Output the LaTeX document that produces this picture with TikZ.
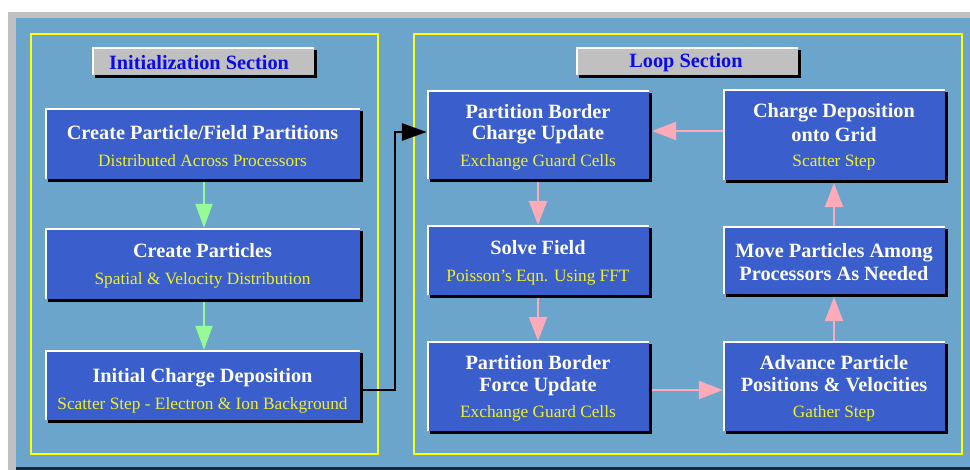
\documentclass[tikz,border=0pt]{standalone}
\usepackage{fontspec}
\setmainfont{Liberation Serif}
\usetikzlibrary{arrows.meta,calc}
\definecolor{bgblue}{RGB}{108,165,204}
\definecolor{boxblue}{RGB}{58,94,204}
\definecolor{framegray}{RGB}{192,192,192}
\definecolor{darkline}{RGB}{25,40,60}
\definecolor{subyel}{RGB}{240,240,40}
\definecolor{secblue}{RGB}{10,10,235}
\definecolor{pinkc}{RGB}{255,170,185}
\definecolor{greenc}{RGB}{150,250,150}
\definecolor{frameyel}{RGB}{255,255,0}
\newcommand\titlef{\bfseries\fontsize{20.3}{21.5}\selectfont}
\newcommand\subf{\mdseries\fontsize{17.3}{18}\selectfont}
\newcommand\subline[1]{{\subf\color{subyel}#1}}
\newcommand\boxtext[3]{\node[txt] (#1t) at ($(#1.center)+(0,#2)$) {#3};}
\tikzset{
  panel/.style={draw=frameyel, line width=1.5pt},
  bx/.style={fill=boxblue, inner sep=0pt},
  lbox/.style={bx, minimum width=315pt},
  rbox/.style={bx, minimum width=222pt},
  txt/.style={inner sep=0pt, align=center, text=white, font=\titlef},
  tbar/.style={fill=framegray, inner sep=0pt, minimum width=222pt, minimum height=28pt},
  sectxt/.style={inner sep=0pt, text=secblue, font=\bfseries\fontsize{20.3}{21}\selectfont},
  garrow/.style={draw=greenc, line width=2.2pt, -{Triangle[width=17pt,length=24pt]}},
  parrow/.style={draw=pinkc, line width=2.5pt, -{Triangle[width=18pt,length=24pt]}},
  karrow/.style={draw=black, line width=2.8pt, line join=miter, -{Triangle[width=17pt,length=25pt]}},
}
\begin{document}
\begin{tikzpicture}[x=1pt,y=-1pt]
\useasboundingbox (0,0) rectangle (970,470);
\fill[white] (0,0) rectangle (970,470);
\fill[framegray] (8,12) rectangle (970,470);
\fill[bgblue] (16,18) rectangle (970,467);
\fill[darkline] (16,467) rectangle (970,470);
\draw[panel] (31,34) rectangle (378,454);
\draw[panel] (414,34) rectangle (962,454);

% section title bars
\node[tbar] (t1) at (203,61) {};
\node[tbar] (t2) at (687,61) {};

% boxes
\node[lbox, minimum height=71pt] (c1) at (202.5,143.5) {};
\node[lbox, minimum height=71pt] (c2) at (202.5,263.5) {};
\node[lbox, minimum height=70pt] (c3) at (202.5,385) {};
\node[rbox, minimum height=89pt] (pb1) at (538,134.5) {};
\node[rbox, minimum height=70pt] (sf) at (538,260) {};
\node[rbox, minimum height=90pt] (pbf) at (538,386) {};
\node[rbox, minimum height=91pt] (cd) at (834,134.5) {};
\node[rbox, minimum height=68pt] (mv) at (834,260) {};
\node[rbox, minimum height=90pt] (adv) at (834,386) {};

% bevels: white top/left edge, black shadow right/bottom
\foreach \n in {t1,t2,c1,c2,c3,pb1,sf,pbf,cd,mv,adv}{
  \fill[black] ($(\n.north east)+(0,3)$) rectangle ($(\n.south east)+(3,3)$);
  \fill[black] ($(\n.south west)+(3,0)$) rectangle ($(\n.south east)+(3,3)$);
  \draw[white, line width=2pt] ($(\n.south west)+(1,0)$) -- ($(\n.north west)+(1,1)$) -- ($(\n.north east)+(0,1)$);
}

% section title texts
\node[sectxt] (t1t) at ($(t1.center)+(-4,2)$) {Initialization Section};
\node[sectxt] (t2t) at ($(t2.center)+(-1,2)$) {Loop Section};

% box texts
\boxtext{c1}{2.5}{Create Particle/Field Partitions\\[5pt]\subline{Distributed Across Processors}}
\boxtext{c2}{2.5}{Create Particles\\[5pt]\subline{Spatial \& Velocity Distribution}}
\boxtext{c3}{6}{Initial Charge Deposition\\[5pt]\subline{Scatter Step - Electron \& Ion Background}}
\boxtext{pb1}{2.5}{Partition Border\\Charge Update\\[5pt]\subline{Exchange Guard Cells}}
\boxtext{sf}{3}{Solve Field\\[5pt]\subline{Poisson’s Eqn. Using FFT}}
\boxtext{pbf}{2.5}{Partition Border\\Force Update\\[5pt]\subline{Exchange Guard Cells}}
\boxtext{cd}{2.5}{Charge Deposition\\[2.5pt]onto Grid\\[4pt]\subline{Scatter Step}}
\boxtext{mv}{2}{Move Particles Among\\[1pt]Processors As Needed}
\boxtext{adv}{2.5}{Advance Particle\\Positions \& Velocities\\[5pt]\subline{Gather Step}}

% connectors
\draw[garrow] ($(c1.south)+(1.5,3)$) -- ($(c2.north)+(1.5,0)$);
\draw[garrow] ($(c2.south)+(1.5,3)$) -- ($(c3.north)+(1.5,0)$);

\coordinate (elbow) at (395,132);
\coordinate (yc3) at (0,390);
\draw[karrow] ($(c3.east |- yc3)+(3,0)$) -| (elbow) -- (pb1.west |- elbow);

\coordinate (ytop) at (0,131);
\coordinate (ybot) at (0,390);
\draw[parrow] (cd.west |- ytop) -- ($(pb1.east |- ytop)+(3,0)$);
\draw[parrow] ($(pb1.south)+(0,3)$) -- (sf.north);
\draw[parrow] ($(sf.south)+(0,3)$) -- (pbf.north);
\draw[parrow] ($(pbf.east |- ybot)+(3,0)$) -- (adv.west |- ybot);
\draw[parrow] (adv.north) -- ($(mv.south)+(0,3)$);
\draw[parrow] (mv.north) -- ($(cd.south)+(0,3)$);
\end{tikzpicture}
\end{document}
